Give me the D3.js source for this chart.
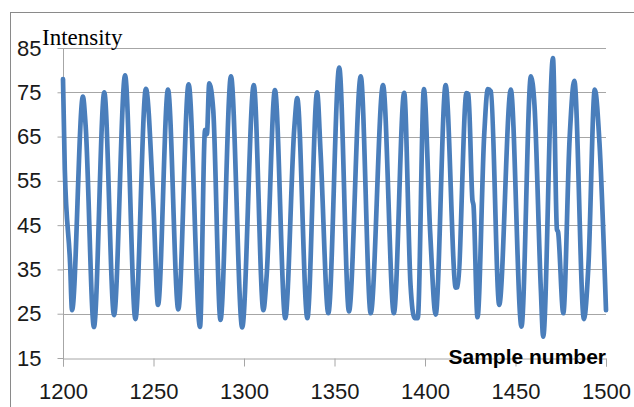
<!DOCTYPE html>
<html>
<head>
<meta charset="utf-8">
<script src="https://cdn.jsdelivr.net/npm/d3@7"></script>
<style>
  html, body { margin: 0; padding: 0; background: #fff; }
  svg { display: block; }
  .serif { font-family: "Liberation Serif", "Times New Roman", Tinos, "DejaVu Serif", serif; }
</style>
</head>
<body>
<svg id="chart" width="634" height="407"></svg>
<script>
// Values (turning points and kinks of the signal)
const sampleNumbers = [
  1200, 1201, 1203.9, 1205, 1211, 1212.5, 1217.1, 1222.8, 1228.2, 1234.3,
  1240, 1245.8, 1249.9, 1252.5, 1258, 1263.7, 1269.4, 1275.7, 1278.5, 1279.5,
  1280.8, 1283, 1287, 1292.8, 1299, 1305.4, 1310.7, 1312.5, 1317.1, 1322.8,
  1327.8, 1329.4, 1335, 1340.4, 1342.3, 1346.6, 1352.6, 1358, 1364.5, 1370,
  1376.8, 1382.8, 1388.5, 1392, 1394.2, 1396, 1399.4, 1402.9, 1405.9, 1411.4,
  1417, 1418, 1422.9, 1424, 1426.2, 1426.8, 1429, 1432.7, 1434.7, 1436.4,
  1441, 1447.4, 1453.3, 1458.5, 1460.5, 1464, 1465.3, 1470.7, 1472.9, 1473.5,
  1476.4, 1479.9, 1482.5, 1487.8, 1490.3, 1493.8, 1496.4, 1500
];
const intensity = [
  78, 57.5, 36.5, 25.8, 74, 67.5, 22, 75, 24.7, 78.8,
  23.8, 75.8, 50, 27, 75.6, 26, 76.8, 22, 66.5, 65.5,
  77, 71, 23.6, 78.6, 21.9, 76.6, 25.8, 33.5, 75.5, 24,
  67, 73.7, 24, 75, 61.5, 25.1, 80.6, 25.5, 78.6, 25.1,
  76.6, 25.1, 74.9, 31.5, 24, 24, 75.7, 43, 24.8, 76.6,
  30.9, 31, 74.8, 74.5, 50.7, 49.5, 24.2, 65.3, 75.7, 75.2,
  27, 75.6, 22.1, 78.6, 72, 30.5, 19.8, 82.7, 44, 43.5,
  25.1, 64.6, 77.6, 23.8, 36, 75.6, 63.5, 25.8
];
const xTicks = [1200, 1250, 1300, 1350, 1400, 1450, 1500];
const yTicks = [15, 25, 35, 45, 55, 65, 75, 85];
const xTitle = "Sample number";
const yTitle = "Intensity";

const svg = d3.select("#chart");
const x = d3.scaleLinear().domain([1200, 1500]).range([63, 606]);
const y = d3.scaleLinear().domain([15, 85]).range([358, 48]);

// outer chart border
svg.append("rect")
  .attr("x", 10.5).attr("y", 12.5)
  .attr("width", 660).attr("height", 420)
  .attr("fill", "none").attr("stroke", "#8a8a8a").attr("stroke-width", 1);

// horizontal gridlines
svg.append("g")
  .selectAll("line")
  .data(yTicks.filter(d => d !== 15))
  .join("line")
  .attr("x1", x(1200)).attr("x2", x(1500))
  .attr("y1", d => Math.round(y(d)) + 0.5).attr("y2", d => Math.round(y(d)) + 0.5)
  .attr("stroke", "#a6a6a6").attr("stroke-width", 1);

// y axis
const yAxis = svg.append("g")
  .attr("transform", `translate(${Math.round(x(1200)) + 0.5},0)`)
  .call(d3.axisLeft(y).tickValues(yTicks).tickSize(6).tickPadding(16).tickFormat(d3.format("d")));
// x axis
const xAxis = svg.append("g")
  .attr("transform", `translate(0,${Math.round(y(15)) + 0.5})`)
  .call(d3.axisBottom(x).tickValues(xTicks).tickSize(8).tickPadding(16).tickFormat(d3.format("d")));

[yAxis, xAxis].forEach(g => {
  g.select(".domain").attr("stroke", "#a6a6a6");
  g.selectAll(".tick line").attr("stroke", "#a6a6a6");
  g.selectAll("text")
    .attr("fill", "#1a1a1a")
    .style("font-family", "'Liberation Sans', Arial, sans-serif")
    .style("font-size", "22px");
});
yAxis.select(".domain").attr("d", `M0,${y(85)}V${y(15) + 8}`);
xAxis.selectAll(".tick text").attr("y", 25).attr("dy", "0.71em");

// the signal
const pts = sampleNumbers.map((s, i) => [s, intensity[i]]);
svg.append("path")
  .datum(pts)
  .attr("fill", "none")
  .attr("stroke", "#4a7ebb")
  .attr("stroke-width", 4.7)
  .attr("stroke-linejoin", "round")
  .attr("stroke-linecap", "round")
  .attr("d", d3.line().x(d => x(d[0])).y(d => y(d[1])).curve(d3.curveMonotoneX));

// titles
svg.append("text")
  .attr("class", "serif")
  .attr("x", 42).attr("y", 45)
  .attr("font-family", "Liberation Serif, Times New Roman, serif")
  .attr("font-size", 23)
  .attr("fill", "#000")
  .text(yTitle);

svg.append("text")
  .attr("x", 606).attr("y", 364)
  .attr("text-anchor", "end")
  .style("font-family", "'Liberation Sans', Arial, sans-serif")
  .style("font-size", "21px")
  .style("font-weight", "bold")
  .attr("fill", "#000")
  .text(xTitle);
</script>
</body>
</html>
